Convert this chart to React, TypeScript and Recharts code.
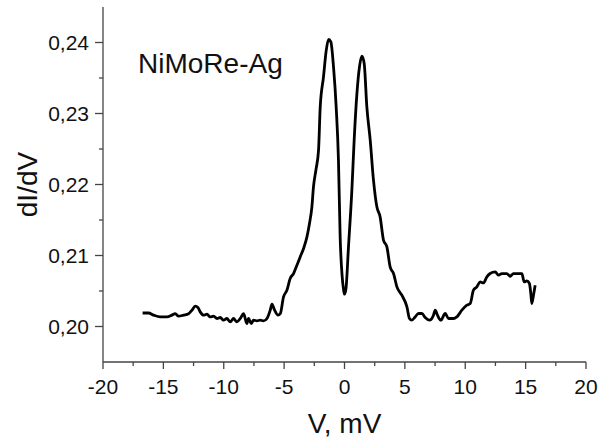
import { LineChart, Line, XAxis, YAxis } from "recharts";

// V, mV
const voltage = [
  -16.72, -16.23, -15.81, -15.26, -14.7, -14.29, -14.02, -13.74, -13.33, -12.91,
  -12.63, -12.36, -12.14, -11.95, -11.67, -11.39, -11.12, -10.84, -10.56, -10.29,
  -10.02, -9.74, -9.46, -9.19, -8.91, -8.63, -8.36, -8.08, -7.95, -7.72,
  -7.53, -7.25, -6.98, -6.71, -6.42, -6.15, -6.01, -5.79, -5.51, -5.32,
  -5.05, -4.77, -4.5, -4.22, -3.94, -3.67, -3.39, -3.11, -2.9, -2.7,
  -2.57, -2.37, -2.15, -2.01, -1.74, -1.51, -1.32, -1.13, -0.91, -0.69,
  -0.5, -0.36, -0.2, -0.08, 0.0, 0.12, 0.33, 0.61, 0.8, 1.03, 1.24, 1.44,
  1.63, 1.85, 2.13, 2.4, 2.68, 2.95, 3.23, 3.51, 3.78, 4.06,
  4.34, 4.75, 5.17, 5.38, 5.58, 5.85, 6.13, 6.41, 6.68, 7.04,
  7.37, 7.51, 7.7, 7.98, 8.34, 8.61, 9.02, 9.3, 9.72, 10.13,
  10.41, 10.68, 10.96, 11.23, 11.51, 11.79, 12.06, 12.48, 12.75, 13.03,
  13.44, 13.72, 13.99, 14.69, 14.88, 15.1, 15.31, 15.43, 15.51, 15.65,
  15.79,
];

// dI/dV
const conductance = [
  0.2019, 0.2019, 0.2016, 0.20135, 0.20135, 0.2016, 0.2018, 0.20145, 0.2016, 0.2018,
  0.2023, 0.20286, 0.20268, 0.20206, 0.2016, 0.20173, 0.20135, 0.20145, 0.20113, 0.20127,
  0.20089, 0.20113, 0.20065, 0.20113, 0.20065, 0.20113, 0.2018, 0.20042, 0.20113, 0.20042,
  0.20089, 0.20079, 0.20089, 0.20079, 0.20113, 0.2023, 0.20314, 0.2023, 0.2016, 0.2018,
  0.20417, 0.20511, 0.20676, 0.20746, 0.20863, 0.2098, 0.21099, 0.21262, 0.21451, 0.21685,
  0.21966, 0.22201, 0.22483, 0.23093, 0.23515, 0.23892, 0.24042, 0.24008, 0.23656, 0.23093,
  0.22342, 0.21262, 0.2072, 0.2052, 0.20455, 0.2053, 0.21121, 0.2192, 0.22624, 0.23282, 0.23656, 0.23807,
  0.23704, 0.23093, 0.22624, 0.22061, 0.21685, 0.21544, 0.21215, 0.21121, 0.20839, 0.20746,
  0.20558, 0.20441, 0.20276, 0.20113, 0.20089, 0.20135, 0.20183, 0.20183, 0.20127, 0.20089,
  0.20159, 0.2023, 0.20159, 0.20089, 0.20183, 0.20113, 0.20113, 0.20135, 0.2023, 0.203,
  0.20324, 0.20511, 0.20558, 0.20628, 0.20614, 0.20699, 0.20746, 0.20769, 0.20723, 0.20746,
  0.20746, 0.20708, 0.20746, 0.20746, 0.20628, 0.20642, 0.20606, 0.20465, 0.20324, 0.20441,
  0.20582,
];

const xTicks = [-20, -17.5, -15, -12.5, -10, -7.5, -5, -2.5, 0, 2.5, 5, 7.5, 10, 12.5, 15, 17.5, 20];
const yTicks = [0.2, 0.205, 0.21, 0.215, 0.22, 0.225, 0.23, 0.235, 0.24];

const data = voltage.map((v, i) => ({ v, g: conductance[i] }));

const FONT = "'Liberation Sans', Arial, sans-serif";
const AXIS = "#444";

function XTick({ x, y, payload }: any) {
  const minor = payload.value % 5 !== 0;
  return (
    <g>
      <line x1={x} x2={x} y1={y} y2={y + (minor ? 4 : 7)} stroke={AXIS} strokeWidth={1.3} />
      {!minor && (
        <text x={x} y={y + 32} textAnchor="middle" fontSize={21} fontFamily={FONT} fill="#111">
          {String(payload.value)}
        </text>
      )}
    </g>
  );
}

function YTick({ x, y, payload }: any) {
  const minor = Math.round(payload.value * 1000) % 10 !== 0;
  return (
    <g>
      <line x1={x} x2={x - (minor ? 4 : 8)} y1={y} y2={y} stroke={AXIS} strokeWidth={1.3} />
      {!minor && (
        <text x={x - 14} y={y + 7.5} textAnchor="end" fontSize={21} fontFamily={FONT} fill="#111">
          {payload.value.toFixed(2).replace(".", ",")}
        </text>
      )}
    </g>
  );
}

export default function App() {
  return (
    <div style={{ position: "absolute", left: 0, top: 0, width: 600, height: 440, background: "#fff" }}>
      <LineChart width={600} height={440} data={data} margin={{ top: 7, right: 14, bottom: 0, left: 0 }}>
        <XAxis
          dataKey="v"
          type="number"
          domain={[-20, 20]}
          ticks={xTicks}
          interval={0}
          tickLine={false}
          tickSize={0}
          tickMargin={0}
          height={78}
          axisLine={{ stroke: AXIS, strokeWidth: 1.3 }}
          tick={(p: any) => <XTick {...p} />}
          label={{
            content: () => (
              <text x={344.5} y={433} textAnchor="middle" fontSize={28} fontFamily={FONT} fill="#111">
                V, mV
              </text>
            ),
          }}
        />
        <YAxis
          type="number"
          domain={[0.195, 0.245]}
          ticks={yTicks}
          interval={0}
          allowDataOverflow
          tickLine={false}
          tickSize={0}
          tickMargin={0}
          width={103}
          axisLine={{ stroke: AXIS, strokeWidth: 1.3 }}
          tick={(p: any) => <YTick {...p} />}
          label={{
            content: () => (
              <text
                x={37}
                y={184.5}
                transform="rotate(-90 37 184.5)"
                textAnchor="middle"
                fontSize={28}
                fontFamily={FONT}
                fill="#111"
              >
                dI/dV
              </text>
            ),
          }}
        />
        <Line
          dataKey="g"
          type="monotone"
          stroke="#000"
          strokeWidth={2.8}
          strokeLinejoin="round"
          dot={false}
          isAnimationActive={false}
        />
      </LineChart>
      <div
        style={{
          position: "absolute",
          left: 138,
          top: 50,
          fontFamily: FONT,
          fontSize: 28,
          lineHeight: "28px",
          color: "#111",
          whiteSpace: "nowrap",
        }}
      >
        NiMoRe-Ag
      </div>
    </div>
  );
}
